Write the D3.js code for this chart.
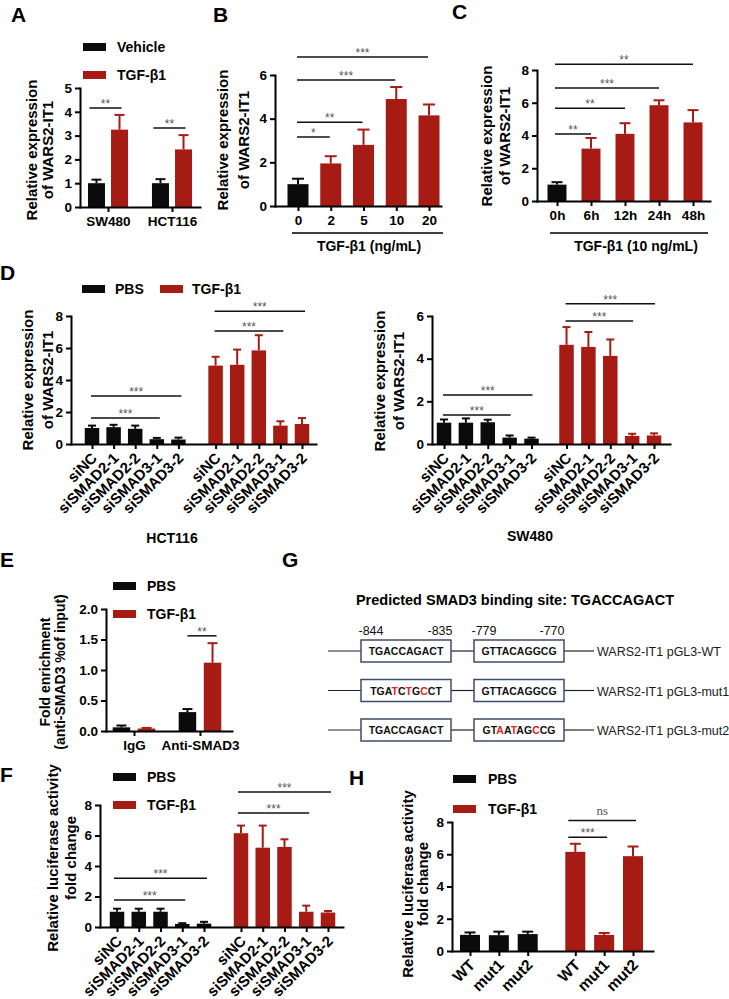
<!DOCTYPE html>
<html><head><meta charset="utf-8">
<script src="https://cdn.jsdelivr.net/npm/d3@7"></script>
<style>
html,body{margin:0;padding:0;background:#fff;}
svg{display:block;}
</style></head><body>
<script>
// ================= DATA =================
// Panel A
const aCells = ["SW480", "HCT116"];
const aGroups = ["Vehicle", "TGF-β1"];
const aVehicle = [1.0, 1.0];
const aVehicleSD = [0.15, 0.17];
const aTGF = [3.25, 2.42];
const aTGFSD = [0.62, 0.6];
const aSig = [[0, 4.16, "**"], [1, 3.32, "**"]];
const aTicks = [0, 1, 2, 3, 4, 5];

// Panel B
const bDoses = ["0", "2", "5", "10", "20"];
const bMean = [1.0, 1.95, 2.8, 4.9, 4.15];
const bSD = [0.25, 0.33, 0.7, 0.55, 0.5];
const bSig = [[0, 1, 3.16, "*"], [0, 2, 3.84, "**"], [0, 3, 5.77, "***"], [0, 4, 6.82, "***"]];
const bTicks = [0, 2, 4, 6];
const bTitle = "TGF-β1 (ng/mL)";

// Panel C
const cTimes = ["0h", "6h", "12h", "24h", "48h"];
const cMean = [1.0, 3.2, 4.1, 5.85, 4.8];
const cSD = [0.15, 0.65, 0.65, 0.3, 0.75];
const cSig = [[0, 1, 4.09, "**"], [0, 2, 5.67, "**"], [0, 3, 6.9, "***"], [0, 4, 8.35, "**"]];
const cTicks = [0, 2, 4, 6, 8];
const cTitle = "TGF-β1 (10 ng/mL)";

// Panel D
const dSi = ["siNC", "siSMAD2-1", "siSMAD2-2", "siSMAD3-1", "siSMAD3-2"];
const dGroups = ["PBS", "TGF-β1"];
const dHctPBS = [1.0, 1.05, 0.95, 0.3, 0.28];
const dHctPBSSD = [0.15, 0.15, 0.2, 0.08, 0.12];
const dHctTGF = [4.9, 4.95, 5.85, 1.15, 1.25];
const dHctTGFSD = [0.55, 0.95, 0.95, 0.27, 0.37];
const dHctSig = [[0, 3, 1.63, "***"], [0, 4, 3.0, "***"], [5, 8, 7.06, "***"], [5, 9, 8.3, "***"]];
const dHctTicks = [0, 2, 4, 6, 8];
const dSwPBS = [1.0, 1.0, 1.02, 0.3, 0.25];
const dSwPBSSD = [0.15, 0.2, 0.12, 0.1, 0.05];
const dSwTGF = [4.65, 4.55, 4.13, 0.38, 0.4];
const dSwTGFSD = [0.83, 0.7, 0.77, 0.1, 0.1];
const dSwSig = [[0, 3, 1.36, "***"], [0, 4, 2.3, "***"], [5, 8, 5.77, "***"], [5, 9, 6.57, "***"]];
const dSwTicks = [0, 2, 4, 6];
const dCellLabels = ["HCT116", "SW480"];

// Panel E
const eAb = ["IgG", "Anti-SMAD3"];
const ePBS = [0.06, 0.31];
const ePBSSD = [0.03, 0.05];
const eTGF = [0.04, 1.12];
const eTGFSD = [0.01, 0.32];
const eSig = [[1, 1.56, "**"]];
const eTicks = [0, 0.5, 1.0, 1.5, 2.0];

// Panel F
const fPBS = [1.0, 1.0, 1.0, 0.2, 0.22];
const fPBSSD = [0.2, 0.2, 0.2, 0.05, 0.12];
const fTGF = [6.15, 5.2, 5.25, 1.0, 0.95];
const fTGFSD = [0.5, 1.45, 0.5, 0.4, 0.1];
const fSig = [[0, 3, 1.77, "***"], [0, 4, 3.2, "***"], [5, 8, 7.48, "***"], [5, 9, 8.85, "***"]];
const fTicks = [0, 2, 4, 6, 8];

// Panel G
const gTitle = "Predicted SMAD3 binding site: TGACCAGACT";
const gPositions = ["-844", "-835", "-779", "-770"];
const gSite1 = ["TGACCAGACT", "TGATCTGCCT", "TGACCAGACT"];
const gSite2 = ["GTTACAGGCG", "GTTACAGGCG", "GTAATAGCCG"];
const gConstructs = ["WARS2-IT1 pGL3-WT", "WARS2-IT1 pGL3-mut1", "WARS2-IT1 pGL3-mut2"];
const gRefSite1 = "TGACCAGACT";
const gRefSite2 = "GTTACAGGCG";

// Panel H
const hVariants = ["WT", "mut1", "mut2"];
const hPBS = [1.0, 0.98, 1.05];
const hPBSSD = [0.15, 0.22, 0.15];
const hTGF = [6.15, 1.0, 5.88];
const hTGFSD = [0.5, 0.12, 0.6];
const hSig = [[3, 4, 7.06, "***"], [3, 5, 8.1, "ns"]];
const hTicks = [0, 2, 4, 6, 8];

// ================= DRAWING =================
const FONT = "'Liberation Sans', Arial, Helvetica, sans-serif";
const RED = "#A61C15", BLK = "#0b0b0b", SIG = "#555";
const svg = d3.select("body").append("svg")
  .attr("width", 729).attr("height", 999)
  .attr("font-family", FONT);

function txt(x, y, s, o = {}) {
  return svg.append("text").attr("x", x).attr("y", y).text(s)
    .attr("font-size", o.size || 13).attr("font-weight", o.weight || "bold")
    .attr("text-anchor", o.anchor || "start").attr("fill", o.fill || "#000")
    .attr("font-family", o.family || FONT);
}

function panel(o) {
  const g = svg.append("g");
  const y = d3.scaleLinear().domain([0, o.yMax]).range([o.y0, o.yTop]);
  const x = d3.scaleLinear().domain(o.slotDomain).range([o.x0, o.x1]);
  g.selectAll("rect.bar").data(o.bars).join("rect").attr("class", "bar")
    .attr("x", d => x(d.slot) - o.barW / 2).attr("width", o.barW)
    .attr("y", d => y(d.value)).attr("height", d => o.y0 - y(d.value))
    .attr("fill", d => d.color);
  g.selectAll("line.err").data(o.bars).join("line").attr("class", "err")
    .attr("x1", d => x(d.slot)).attr("x2", d => x(d.slot))
    .attr("y1", d => y(d.value)).attr("y2", d => y(d.value + d.sd))
    .attr("stroke", d => d.color).attr("stroke-width", 2);
  g.selectAll("line.cap").data(o.bars).join("line").attr("class", "cap")
    .attr("x1", d => x(d.slot) - o.capW / 2).attr("x2", d => x(d.slot) + o.capW / 2)
    .attr("y1", d => y(d.value + d.sd)).attr("y2", d => y(d.value + d.sd))
    .attr("stroke", d => d.color).attr("stroke-width", 2);
  const ya = g.append("g").attr("transform", `translate(${o.x0},0)`)
    .call(d3.axisLeft(y).tickValues(o.ticks).tickFormat(o.fmt || d3.format("d"))
      .tickSize(5).tickSizeOuter(0).tickPadding(3));
  const xa = g.append("g").attr("transform", `translate(0,${o.y0})`)
    .call(d3.axisBottom(x).tickValues(o.xticks.map(d => d.slot))
      .tickFormat((d, i) => o.rotate ? "" : o.xticks[i].label)
      .tickSize(5).tickSizeOuter(0).tickPadding(4));
  [ya, xa].forEach(a => {
    a.attr("font-family", FONT).attr("font-size", 13.5);
    a.selectAll("path.domain").attr("stroke", "#000").attr("stroke-width", 2).attr("stroke-linecap", "square");
    a.selectAll(".tick line").attr("stroke", "#000").attr("stroke-width", 2);
    a.selectAll(".tick text").attr("font-weight", "bold").attr("fill", "#000");
  });
  if (o.rotate) {
    g.selectAll("text.rot").data(o.xticks).join("text").attr("class", "rot")
      .attr("transform", d => `translate(${x(d.slot) + 6},${o.y0 + 15}) rotate(-45)`)
      .attr("text-anchor", "end").attr("font-size", o.rotSize || 15).attr("font-weight", "bold")
      .text(d => d.label);
  }
  (o.sig || []).forEach(s => {
    const x1 = x(s.s1) - (o.extL || 0), x2 = x(s.s2) + (o.extR || 0), yy = y(s.y);
    g.append("line").attr("x1", x1).attr("x2", x2).attr("y1", yy).attr("y2", yy)
      .attr("stroke", "#111").attr("stroke-width", 1.5);
    const ns = s.label === "ns";
    g.append("text").attr("x", (x1 + x2) / 2).attr("y", yy - (ns ? 5 : 0))
      .attr("text-anchor", "middle").attr("fill", SIG)
      .attr("font-size", ns ? 13 : 12)
      .attr("font-family", ns ? "'Liberation Serif', 'Times New Roman', serif" : FONT)
      .text(s.label);
  });
  o.ylab.forEach((l, i) => {
    g.append("text").attr("transform", `translate(${o.ylabX[i]},${o.ylabY}) rotate(-90)`)
      .attr("text-anchor", "middle").attr("font-size", o.ylabSize || 15).attr("font-weight", "bold")
      .text(l);
  });
  return { x, y };
}

function legend(items, pos) {
  items.forEach((it, i) => {
    const p = pos[i];
    svg.append("rect").attr("x", p[0]).attr("y", p[1] - 4).attr("width", 23).attr("height", 8).attr("fill", it.color);
    txt(p[2], p[1] + 5, it.label, { size: 14 });
  });
}

const ylabExpr = ["Relative expression", "of WARS2-IT1"];
const ylabLuc = ["Relative luciferase activity", "fold change"];

// ---------- A ----------
{
  const bars = [];
  aCells.forEach((c, i) => {
    bars.push({ slot: i - 0.18, value: aVehicle[i], sd: aVehicleSD[i], color: BLK });
    bars.push({ slot: i + 0.18, value: aTGF[i], sd: aTGFSD[i], color: RED });
  });
  panel({
    x0: 80, x1: 200, slotDomain: [-0.4375, 1.4375], y0: 207, yTop: 88, yMax: 5, ticks: aTicks,
    bars, barW: 17, capW: 10,
    xticks: aCells.map((c, i) => ({ slot: i, label: c })),
    sig: aSig.map(s => ({ s1: s[0] - 0.18, s2: s[0] + 0.18, y: s[1], label: s[2] })), extL: 7, extR: 2,
    ylab: ylabExpr, ylabX: [37, 53], ylabY: 150
  });
  legend([{ label: aGroups[0], color: BLK }, { label: aGroups[1], color: RED }], [[83, 47, 117], [83, 75, 117]]);
}

// ---------- B ----------
{
  const bars = bMean.map((v, i) => ({ slot: i, value: v, sd: bSD[i], color: i === 0 ? BLK : RED }));
  panel({
    x0: 275, x1: 441, slotDomain: [-0.702, 4.366], y0: 206, yTop: 75, yMax: 6, ticks: bTicks,
    bars, barW: 21, capW: 12,
    xticks: bDoses.map((c, i) => ({ slot: i, label: c })),
    sig: bSig.map(s => ({ s1: s[0], s2: s[1], y: s[2], label: s[3] })), extL: 1, extR: -1,
    ylab: ylabExpr, ylabX: [228, 249], ylabY: 140
  });
  svg.append("line").attr("x1", 292).attr("x2", 443).attr("y1", 233).attr("y2", 233).attr("stroke", "#000").attr("stroke-width", 1.5);
  txt(369, 251, bTitle, { anchor: "middle", size: 14 });
}

// ---------- C ----------
{
  const bars = cMean.map((v, i) => ({ slot: i, value: v, sd: cSD[i], color: i === 0 ? BLK : RED }));
  panel({
    x0: 537, x1: 710, slotDomain: [-0.588, 4.5], y0: 201, yTop: 70, yMax: 8, ticks: cTicks,
    bars, barW: 19, capW: 11,
    xticks: cTimes.map((c, i) => ({ slot: i, label: c })),
    sig: cSig.map(s => ({ s1: s[0], s2: s[1], y: s[2], label: s[3] })), extL: 2, extR: 0,
    ylab: ylabExpr, ylabX: [492, 510], ylabY: 136
  });
  svg.append("line").attr("x1", 550).attr("x2", 708).attr("y1", 233).attr("y2", 233).attr("stroke", "#000").attr("stroke-width", 1.5);
  txt(636, 251, cTitle, { anchor: "middle", size: 14 });
}

// ---------- D ----------
function slotOf(i, n, gap) { return i + (i >= n ? gap : 0); }
function dPanel(pbs, pbsSD, tgf, tgfSD, sig, ticks, L) {
  const n = dSi.length, bars = [], xt = [];
  dSi.forEach((s, i) => {
    bars.push({ slot: slotOf(i, n, L.gap), value: pbs[i], sd: pbsSD[i], color: BLK });
    xt.push({ slot: slotOf(i, n, L.gap), label: s });
  });
  dSi.forEach((s, i) => {
    bars.push({ slot: slotOf(i + n, n, L.gap), value: tgf[i], sd: tgfSD[i], color: RED });
    xt.push({ slot: slotOf(i + n, n, L.gap), label: s });
  });
  panel(Object.assign({
    bars, xticks: xt, rotate: true, ticks,
    sig: sig.map(s => ({ s1: slotOf(s[0], n, L.gap), s2: slotOf(s[1], n, L.gap), y: s[2], label: s[3] }))
  }, L));
}
dPanel(dHctPBS, dHctPBSSD, dHctTGF, dHctTGFSD, dHctSig, dHctTicks, {
  gap: 0.72, x0: 71, x1: 316, slotDomain: [-0.972, 10.368], y0: 444, yTop: 316, yMax: 8,
  barW: 14.5, capW: 8, extL: 1, extR: 3, ylab: ylabExpr, ylabX: [33, 53], ylabY: 380
});
dPanel(dSwPBS, dSwPBSSD, dSwTGF, dSwTGFSD, dSwSig, dSwTicks, {
  gap: 0.6, x0: 432, x1: 670, slotDomain: [-0.549, 10.33], y0: 444, yTop: 316, yMax: 6,
  barW: 14.5, capW: 8, extL: 1, extR: 1, ylab: ylabExpr, ylabX: [385, 404], ylabY: 381
});
legend([{ label: dGroups[0], color: BLK }, { label: dGroups[1], color: RED }], [[82, 289, 115], [160, 289, 192]]);
txt(172, 543, dCellLabels[0], { anchor: "middle", size: 14 });
txt(530, 541, dCellLabels[1], { anchor: "middle", size: 14 });

// ---------- E ----------
{
  const bars = [];
  eAb.forEach((c, i) => {
    bars.push({ slot: i - 0.19, value: ePBS[i], sd: ePBSSD[i], color: BLK });
    bars.push({ slot: i + 0.19, value: eTGF[i], sd: eTGFSD[i], color: RED });
  });
  panel({
    x0: 106, x1: 232, slotDomain: [-0.424, 1.485], y0: 731, yTop: 609, yMax: 2, ticks: eTicks, fmt: d3.format(".1f"),
    bars, barW: 17.5, capW: 10,
    xticks: eAb.map((c, i) => ({ slot: i, label: c })),
    sig: eSig.map(s => ({ s1: s[0] - 0.19, s2: s[0] + 0.19, y: s[1], label: s[2] })), extL: 0, extR: 4,
    ylab: ["Fold enrichment", "(anti-SMAD3 %of input)"], ylabX: [50, 65], ylabY: 672, ylabSize: 14
  });
  legend([{ label: dGroups[0], color: BLK }, { label: dGroups[1], color: RED }], [[113, 586, 147], [113, 614, 147]]);
}

// ---------- F ----------
{
  const n = dSi.length, gap = 0.7, bars = [], xt = [];
  dSi.forEach((s, i) => { bars.push({ slot: slotOf(i, n, gap), value: fPBS[i], sd: fPBSSD[i], color: BLK }); xt.push({ slot: slotOf(i, n, gap), label: s }); });
  dSi.forEach((s, i) => { bars.push({ slot: slotOf(i + n, n, gap), value: fTGF[i], sd: fTGFSD[i], color: RED }); xt.push({ slot: slotOf(i + n, n, gap), label: s }); });
  panel({
    x0: 100, x1: 343, slotDomain: [-0.782, 10.39], y0: 927, yTop: 805, yMax: 8, ticks: fTicks,
    bars, barW: 14.5, capW: 8, xticks: xt, rotate: true,
    sig: fSig.map(s => ({ s1: slotOf(s[0], n, gap), s2: slotOf(s[1], n, gap), y: s[2], label: s[3] })), extL: 3, extR: 3,
    ylab: ylabLuc, ylabX: [58, 76], ylabY: 858
  });
  legend([{ label: dGroups[0], color: BLK }, { label: dGroups[1], color: RED }], [[113, 777, 147], [113, 805, 147]]);
}

// ---------- H ----------
{
  const n = hVariants.length, gap = 0.65, bars = [], xt = [];
  hVariants.forEach((s, i) => { bars.push({ slot: slotOf(i, n, gap), value: hPBS[i], sd: hPBSSD[i], color: BLK }); xt.push({ slot: slotOf(i, n, gap), label: s }); });
  hVariants.forEach((s, i) => { bars.push({ slot: slotOf(i + n, n, gap), value: hTGF[i], sd: hTGFSD[i], color: RED }); xt.push({ slot: slotOf(i + n, n, gap), label: s }); });
  panel({
    x0: 452, x1: 653, slotDomain: [-0.624, 6.343], y0: 951, yTop: 822, yMax: 8, ticks: hTicks,
    bars, barW: 20, capW: 11, xticks: xt, rotate: true, rotSize: 15.5,
    sig: hSig.map(s => ({ s1: slotOf(s[0], n, gap), s2: slotOf(s[1], n, gap), y: s[2], label: s[3] })), extL: 7, extR: 3,
    ylab: ylabLuc, ylabX: [413, 428], ylabY: 884
  });
  legend([{ label: dGroups[0], color: BLK }, { label: dGroups[1], color: RED }], [[453, 779, 488], [453, 809, 488]]);
}

// ---------- G ----------
{
  txt(515, 605, gTitle, { anchor: "middle", size: 14.5 });
  const box1 = [361, 451], box2 = [474, 564];
  const numX = [box1[0] + 10, box1[1] - 11, box2[0] + 10, box2[1] - 12];
  gPositions.forEach((p, i) => txt(numX[i], 635, p, { anchor: "middle", size: 12.5, weight: "normal", fill: "#111" }));
  const rowY = d3.scalePoint().domain(gConstructs).range([651, 730]);
  gConstructs.forEach((c, r) => {
    const yy = rowY(c);
    const ln = (a, b) => svg.append("line").attr("x1", a).attr("x2", b).attr("y1", yy).attr("y2", yy).attr("stroke", "#222").attr("stroke-width", 1.2);
    ln(328, box1[0]); ln(box1[1], box2[0]); ln(box2[1], 594);
    [[box1, gSite1[r], gRefSite1], [box2, gSite2[r], gRefSite2]].forEach(([bx, seq, ref]) => {
      svg.append("rect").attr("x", bx[0]).attr("y", yy - 11).attr("width", bx[1] - bx[0]).attr("height", 22)
        .attr("fill", "#fff").attr("stroke", "#3d4c6e").attr("stroke-width", 1.5);
      const t = svg.append("text").attr("x", (bx[0] + bx[1]) / 2).attr("y", yy + 4)
        .attr("text-anchor", "middle").attr("font-size", 10.5).attr("font-weight", "bold");
      seq.split("").forEach((ch, k) => {
        t.append("tspan").text(ch).attr("fill", ch !== ref[k] ? "#E8231B" : "#111");
      });
    });
    txt(597, yy + 5, c, { size: 12.5, weight: "normal", fill: "#1a1a1a" });
  });
}

// ---------- panel letters ----------
[["A", 11, 22], ["B", 213, 22], ["C", 452, 19], ["D", 0, 280], ["E", 0, 567], ["F", 0, 782], ["G", 282, 567], ["H", 349, 785]]
  .forEach(l => txt(l[1], l[2], l[0], { size: 21 }));
</script>
</body></html>
